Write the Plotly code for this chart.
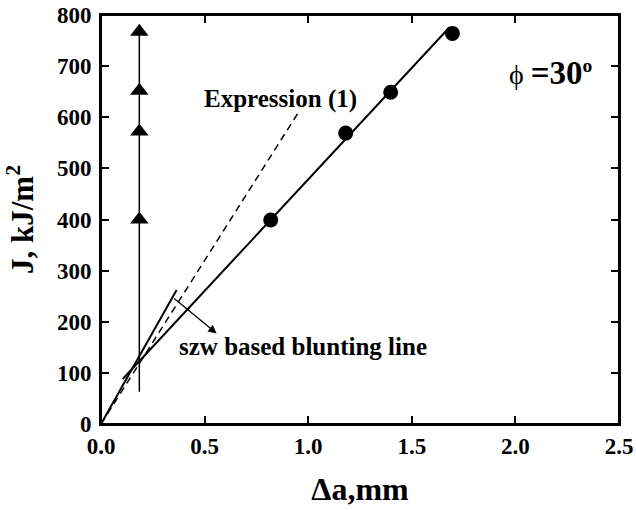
import plotly.graph_objects as go

# Data
tri_x = [0.185, 0.185, 0.185, 0.185]
tri_y = [400, 572, 652, 767]
vert_x = [0.185, 0.185]
vert_y = [63, 767]

circ_x = [0.819, 1.181, 1.398, 1.696]
circ_y = [399, 569, 649, 764]

fit_x = [0.105, 1.68]
fit_y = [88, 775]

expr_x = [0.0, 0.96]
expr_y = [0, 614]

blunt_x = [0.0, 0.365]
blunt_y = [0, 262]

arrow_start = (0.346, 248)
arrow_end = (0.558, 177)

x_ticks = [0.0, 0.5, 1.0, 1.5, 2.0, 2.5]
x_ticklabels = ["0.0", "0.5", "1.0", "1.5", "2.0", "2.5"]
y_ticks = [0, 100, 200, 300, 400, 500, 600, 700, 800]
y_ticklabels = ["0", "100", "200", "300", "400", "500", "600", "700", "800"]

FONT = "Liberation Serif, Times New Roman, serif"

fig = go.Figure()
fig.add_trace(go.Scatter(x=vert_x, y=vert_y, mode="lines",
                         line=dict(color="black", width=1.5), showlegend=False))
fig.add_trace(go.Scatter(x=tri_x, y=tri_y, mode="markers",
                         marker=dict(symbol="triangle-up", size=16, color="black"),
                         showlegend=False))
fig.add_trace(go.Scatter(x=expr_x, y=expr_y, mode="lines",
                         line=dict(color="black", width=1.5, dash="7px,5px"), showlegend=False))
fig.add_trace(go.Scatter(x=blunt_x, y=blunt_y, mode="lines",
                         line=dict(color="black", width=2), showlegend=False))
fig.add_trace(go.Scatter(x=fit_x, y=fit_y, mode="lines",
                         line=dict(color="black", width=2), showlegend=False))
fig.add_trace(go.Scatter(x=circ_x, y=circ_y, mode="markers",
                         marker=dict(symbol="circle", size=15, color="black"),
                         showlegend=False))

fig.add_annotation(x=arrow_end[0], y=arrow_end[1], ax=arrow_start[0], ay=arrow_start[1],
                   xref="x", yref="y", axref="x", ayref="y", text="",
                   showarrow=True, arrowhead=2, arrowsize=1.3, arrowwidth=1.3, arrowcolor="black")

fig.add_annotation(x=0.486, y=636, xref="x", yref="y", text="<b>Expression (1)</b>",
                   showarrow=False, xanchor="left", yanchor="middle",
                   font=dict(family=FONT, size=25, color="black"))
fig.add_annotation(x=0.367, y=151, xref="x", yref="y", text="<b>szw based blunting line</b>",
                   showarrow=False, xanchor="left", yanchor="middle",
                   font=dict(family=FONT, size=25, color="black"))
fig.add_annotation(x=1.96, y=686, xref="x", yref="y",
                   text="ϕ <b><span style='font-size:33px'>=30</span><sup>o</sup></b>",
                   showarrow=False, xanchor="left", yanchor="middle",
                   font=dict(family=FONT, size=28, color="black"))

axis_common = dict(showline=True, linecolor="black", linewidth=2, mirror="ticks",
                   ticks="inside", ticklen=8, tickwidth=1.5, tickcolor="black",
                   showgrid=False, zeroline=False, automargin=False,
                   ticklabeloverflow="allow",
                   tickfont=dict(family=FONT, size=23, color="black"))

fig.update_xaxes(range=[0, 2.5], tickvals=x_ticks,
                 ticktext=["<b>%s</b>" % t for t in x_ticklabels],
                 title=dict(text="<b>Δa,mm</b>", font=dict(family=FONT, size=32, color="black"),
                            standoff=20),
                 **axis_common)
fig.update_yaxes(range=[0, 800], tickvals=y_ticks,
                 ticktext=["<b>%s</b>" % t for t in y_ticklabels],
                 ticklabelstandoff=3,
                 title=dict(text="<b>J, kJ/m<sup>2</sup></b>", font=dict(family=FONT, size=31, color="black"),
                            standoff=14),
                 **axis_common)

# plot frame
fig.add_shape(type="rect", xref="paper", yref="paper", x0=0, y0=0, x1=1, y1=1,
              line=dict(color="black", width=2), layer="above")

fig.update_layout(width=636, height=510, margin=dict(l=101, r=17, t=15, b=86),
                  plot_bgcolor="white", paper_bgcolor="white",
                  font=dict(family=FONT, color="black"))

fig.write_html("out.html", config={"displayModeBar": False},
               post_script="document.body.style.margin='0';document.body.style.overflow='hidden';")
